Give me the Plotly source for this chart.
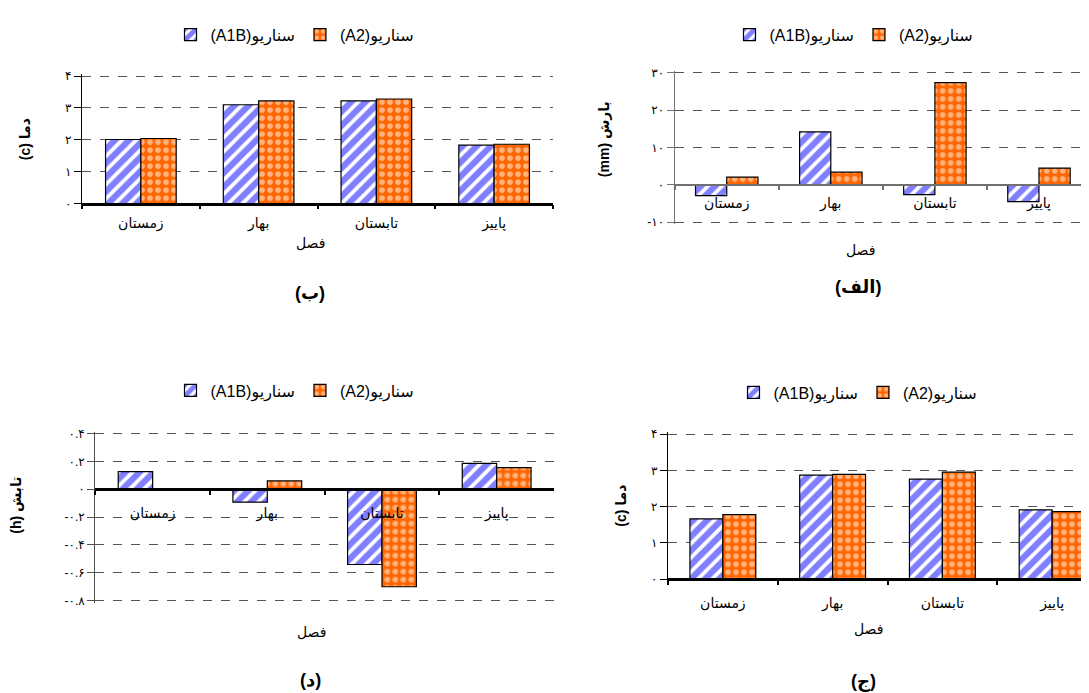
import plotly.graph_objects as go

# ---------------- data ----------------
seasons = ["زمستان", "بهار", "تابستان", "پاییز"]
series_names = ["(A1B)سناریو", "(A2)سناریو"]

# (الف) precipitation change (mm)
precip_a1b = [-2.9, 14.2, -2.6, -4.5]
precip_a2 = [2.1, 3.4, 27.4, 4.5]
# (ب) temperature change (c)
temp_b_a1b = [2.01, 3.10, 3.22, 1.83]
temp_b_a2 = [2.04, 3.22, 3.28, 1.86]
# (ج) temperature change (c)
temp_c_a1b = [1.66, 2.87, 2.76, 1.91]
temp_c_a2 = [1.78, 2.89, 2.95, 1.86]
# (د) sunshine change (h)
sun_a1b = [0.126, -0.093, -0.54, 0.186]
sun_a2 = [0.0, 0.06, -0.70, 0.155]

ticks_temp = [0, 1, 2, 3, 4]
ticks_temp_text = ["۰", "۱", "۲", "۳", "۴"]
ticks_precip = [-10, 0, 10, 20, 30]
ticks_precip_text = ["-۱۰", "۰", "۱۰", "۲۰", "۳۰"]
ticks_sun = [-0.8, -0.6, -0.4, -0.2, 0, 0.2, 0.4]
ticks_sun_text = ["-۰.۸", "-۰.۶", "-۰.۴", "-۰.۲", "۰", "۰.۲", "۰.۴"]

panel_labels = ["(ب)", "(الف)", "(د)", "(ج)"]
x_title = "فصل"
y_titles = ["(c) دما", "(mm) بارش", "(h) تابش", "(c) دما"]

# ---------------- layout helpers ----------------
W, H = 1089, 693
FONT = "Liberation Sans, Arial, DejaVu Sans, sans-serif"


def fx(p):
    return p / W


def fy(p):
    return 1 - p / H


panels = [
    dict(a1b=temp_b_a1b, a2=temp_b_a2, xd=(74, 545), yd=(193.3, 64), yr=(0, 4),
         xr=(-0.5, 3.5), tv=ticks_temp, tt=ticks_temp_text, ylc="black", xlc="black", xlw=2.5,
         so=6, leg=(287, 22), lab=(302, 284), xt=(302, 233), yt=(17, 128)),
    dict(a1b=precip_a1b, a2=precip_a2, xd=(666.7, 1083), yd=(212.3, 60.7), yr=(-10, 30),
         xr=(-0.5, 3.5), tv=ticks_precip, tt=ticks_precip_text,
         ylc="#707070", xlc="#707070", xlw=1.5,
         so=6, leg=(846, 22), lab=(850, 278), xt=(852, 240), yt=(596, 128)),
    dict(a1b=sun_a1b, a2=sun_a2, xd=(87.3, 546), yd=(596.3, 426.7), yr=(-0.8, 0.4),
         xr=(-0.5, 3.5), tv=ticks_sun, tt=ticks_sun_text, ylc="#505050", xlc="black", xlw=2.5,
         so=10, leg=(287, 383), lab=(302, 677), xt=(303, 628), yt=(8, 500)),
    dict(a1b=temp_c_a1b, a2=temp_c_a2, xd=(660, 1089), yd=(574.3, 427.3), yr=(0, 4),
         xr=(-0.5, -0.5 + (1089 - 660) / 109.75), tv=ticks_temp, tt=ticks_temp_text,
         ylc="black", xlc="black", xlw=2.5,
         so=10, leg=(850, 385), lab=(855, 678), xt=(860, 625), yt=(613, 500)),
]

fig = go.Figure()
layout = dict(
    width=W, height=H, margin=dict(l=0, r=0, t=0, b=0),
    paper_bgcolor="white", plot_bgcolor="white",
    barmode="group", bargap=0.4, bargroupgap=0.0,
    font=dict(family=FONT, color="black", size=14),
    annotations=[],
)

for i, p in enumerate(panels):
    n = i + 1
    sfx = "" if n == 1 else str(n)
    xa, ya, lg = "x" + sfx, "y" + sfx, "legend" + sfx
    fig.add_trace(go.Bar(
        x=seasons, y=p["a1b"], name=series_names[0], xaxis=xa, yaxis=ya, legend=lg,
        marker=dict(color="white", line=dict(color="black", width=1.2),
                    pattern=dict(shape="/", fgcolor="#0000FF", bgcolor="white",
                                 size=10, solidity=0.62)),
    ))
    fig.add_trace(go.Bar(
        x=seasons, y=p["a2"], name=series_names[1], xaxis=xa, yaxis=ya, legend=lg,
        marker=dict(color="#FF6600", line=dict(color="black", width=1.2),
                    pattern=dict(shape=".", fgcolor="white", bgcolor="#FF6600",
                                 size=8, solidity=0.4)),
    ))
    ymin, ymax = p["yr"]
    ypx = p["yd"][0] - p["yd"][1]
    pad_px = 2.0
    pad = pad_px / ypx * (ymax - ymin)
    y0, y1 = fy(p["yd"][0] + pad_px), fy(p["yd"][1] - pad_px)
    zero_pos = fy(p["yd"][0]) + (0 - ymin) / (ymax - ymin) * (fy(p["yd"][1]) - fy(p["yd"][0]))
    layout["xaxis" + sfx] = dict(
        domain=[fx(p["xd"][0]), min(1.0, fx(p["xd"][1]))], range=list(p["xr"]),
        anchor="free", position=zero_pos, type="category",
        showline=True, linecolor=p["xlc"], linewidth=p["xlw"],
        ticks="outside", tickson="boundaries", ticklen=4, tickwidth=2, tickcolor=p["xlc"],
        ticklabelstandoff=p["so"], showgrid=False, zeroline=False,
        tickfont=dict(size=14, color="black"),
    )
    layout["yaxis" + sfx] = dict(
        domain=[y0, y1], range=[ymin - pad, ymax + pad], anchor=xa,
        tickvals=p["tv"], ticktext=p["tt"], tickfont=dict(size=12, color="black"),
        showline=True, linecolor=p["ylc"], linewidth=1.2,
        ticks="outside", ticklen=7, tickcolor=p["ylc"],
        showgrid=True, gridcolor="#555555", griddash="dash", gridwidth=1,
        zeroline=False,
    )
    layout[lg] = dict(
        orientation="h", x=fx(p["leg"][0]), y=fy(p["leg"][1]),
        xanchor="center", yanchor="middle", bgcolor="rgba(0,0,0,0)",
        font=dict(size=16, color="black"), itemwidth=30, traceorder="normal",
    )
    layout["annotations"].append(dict(
        text="<b>" + panel_labels[i] + "</b>", x=fx(p["lab"][0]), y=fy(p["lab"][1]),
        xref="paper", yref="paper", showarrow=False,
        font=dict(size=18, color="black", family=FONT), xanchor="center", yanchor="middle",
    ))
    layout["annotations"].append(dict(
        text=x_title, x=fx(p["xt"][0]), y=fy(p["xt"][1]),
        xref="paper", yref="paper", showarrow=False,
        font=dict(size=14, color="black"), xanchor="center", yanchor="middle",
    ))
    layout["annotations"].append(dict(
        text="<b>" + y_titles[i] + "</b>", x=fx(p["yt"][0]), y=fy(p["yt"][1]),
        xref="paper", yref="paper", showarrow=False, textangle=-90,
        font=dict(size=14, color="black"), xanchor="center", yanchor="middle",
    ))

fig.update_layout(**layout)
fig.write_html("out.html")
